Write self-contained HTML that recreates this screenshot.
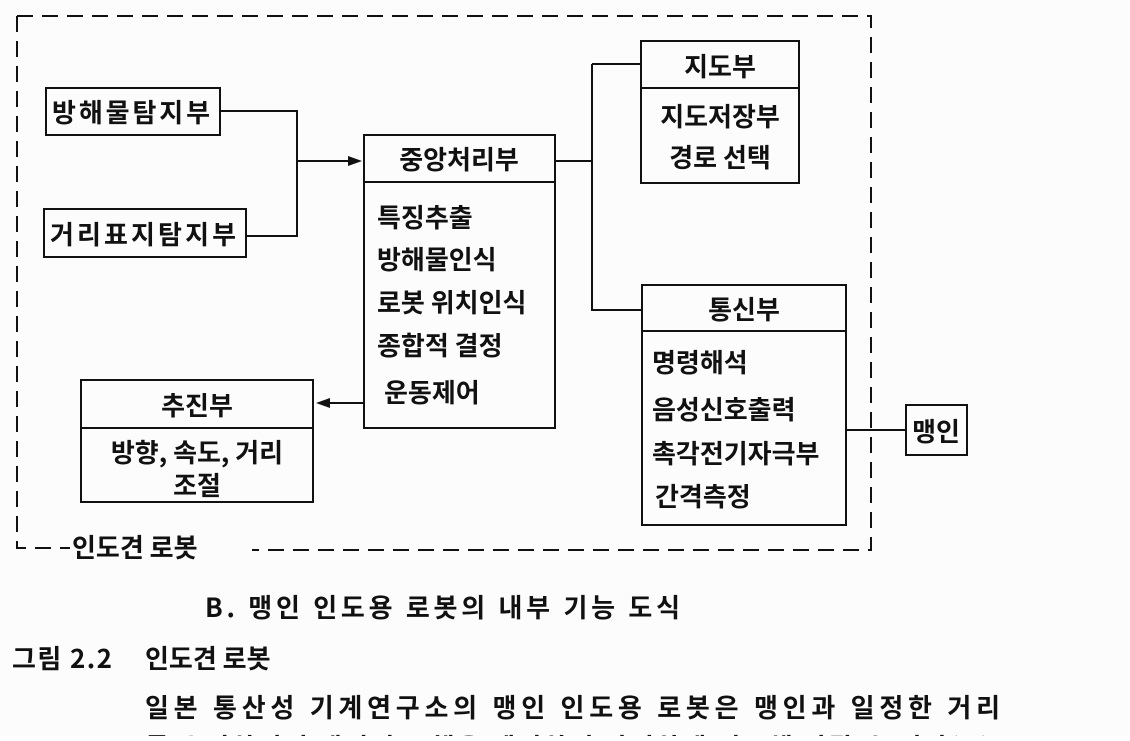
<!DOCTYPE html>
<html><head><meta charset="utf-8"><style>
html,body{margin:0;padding:0;background:#fff;}
svg text{font-family:"Noto Sans CJK KR","Liberation Sans",sans-serif;fill:#111;font-weight:bold;}
</style></head><body>
<svg width="1130" height="736" viewBox="0 0 1130 736" xmlns="http://www.w3.org/2000/svg">
<rect width="1130" height="736" fill="#fcfcfc"/>
<g stroke="#111" stroke-width="2" fill="none">
<path d="M17 16 H871 V550 H252" stroke-dasharray="16 9"/>
<path d="M17 16 V548 H70" stroke-dasharray="16 9"/>
<rect x="46" y="88" width="174" height="47"/>
<rect x="44" y="209" width="202" height="48"/>
<path d="M220 111 H297 V236 H246"/>
<path d="M297 161 H352"/>
<rect x="364" y="135" width="191" height="293"/>
<path d="M364 182 H555"/>
<rect x="641" y="41" width="158" height="142"/>
<path d="M641 88 H799"/>
<path d="M555 161 H592 M592 64 V310 H642 M592 64 H641"/>
<rect x="642" y="285" width="204" height="240"/>
<path d="M642 331 H846"/>
<rect x="81" y="380" width="232" height="122"/>
<path d="M81 428 H313"/>
<path d="M364 403 H328"/>
<rect x="906" y="405" width="61" height="50"/>
<path d="M846 430 H906"/>
</g>
<polygon points="362,161 348,156 348,166" fill="#111"/>
<polygon points="316,403 330,398 330,408" fill="#111"/>
<g font-size="26">
<text x="52" y="122" textLength="158">방해물탐지부</text>
<text x="50" y="244" textLength="186">거리표지탐지부</text>
<text x="459" y="169" text-anchor="middle">중앙처리부</text>
<text x="377" y="227">특징추출</text>
<text x="377" y="269">방해물인식</text>
<text x="377" y="312">로봇 위치인식</text>
<text x="377" y="355">종합적 결정</text>
<text x="384" y="402">운동제어</text>
<text x="720" y="76" text-anchor="middle">지도부</text>
<text x="720" y="126" text-anchor="middle">지도저장부</text>
<text x="720" y="167" text-anchor="middle">경로 선택</text>
<text x="744" y="319" text-anchor="middle">통신부</text>
<text x="652" y="372">명령해석</text>
<text x="652" y="419">음성신호출력</text>
<text x="652" y="463">촉각전기자극부</text>
<text x="655" y="506">간격측정</text>
<text x="197" y="415" text-anchor="middle">추진부</text>
<text x="197" y="462" text-anchor="middle">방향, 속도, 거리</text>
<text x="197" y="495" text-anchor="middle">조절</text>
<text x="936" y="441" text-anchor="middle">맹인</text>
<text x="72" y="557">인도견 로봇</text>
</g>
<g font-size="26">
<text x="205" y="617" textLength="475">B. 맹인 인도용 로봇의 내부 기능 도식</text>
<text x="12" y="668" textLength="100">그림 2.2</text>
<text x="145" y="668">인도견 로봇</text>
<text x="145" y="717" textLength="855">일본 통산성 기계연구소의 맹인 인도용 로봇은 맹인과 일정한 거리</text>
<text x="145" y="757" textLength="855">를 유지하면서 맹인의 보행을 제어하여 안전하게 인도해 나갈 수 있다(1).</text>
</g>
</svg>
</body></html>
